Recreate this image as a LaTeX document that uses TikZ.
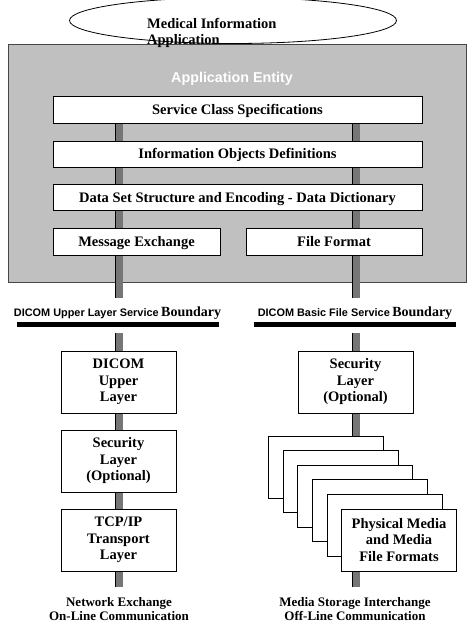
\documentclass[tikz,border=0pt]{standalone}
\usepackage{fontspec}
\setmainfont{Liberation Serif}
\setsansfont{Liberation Sans}
\usetikzlibrary{shapes.geometric}
\pgfdeclarelayer{back}
\pgfdeclarelayer{bars}
\pgfsetlayers{back,bars,main}
\definecolor{aegray}{RGB}{192,192,192}
\definecolor{barcol}{RGB}{118,118,118}
\definecolor{aeedge}{RGB}{70,70,70}
\tikzset{
  box/.style={draw=black, line width=0.8pt, fill=white, inner sep=0pt,
    font=\bfseries\fontsize{14.5}{16.5}\selectfont, align=center},
  ubox/.style={box, text height=9pt, text depth=0pt},
  lbox/.style={box, minimum width=115pt, minimum height=62pt},
  page/.style={lbox},
  bar/.style={double=barcol, double distance=7pt, line width=0.9pt},
  bline/.style={fill=black, minimum width=202pt, minimum height=5pt, inner sep=0pt},
  caption/.style={align=center, inner sep=0pt, anchor=north,
    font=\bfseries\fontsize{13}{14}\selectfont}
}
\begin{document}
\begin{tikzpicture}[x=1pt,y=-1pt]
\useasboundingbox (0,0) rectangle (474,632);
\begin{pgfonlayer}{back}
\node[draw=aeedge, fill=aegray, line width=0.8pt, minimum width=458pt, minimum height=238pt, inner sep=0pt] (ae) at (237,163) {};
\end{pgfonlayer}
\node[ellipse, draw, fill=white, line width=0.8pt, minimum width=327pt, minimum height=46pt, inner sep=0pt] (mia) at (233,20.5) {};
\node[anchor=base west, inner sep=0pt, font=\bfseries\fontsize{14.5}{16}\selectfont] (mia1) at (147,28) {Medical Information};
\node[anchor=base west, inner sep=0pt, font=\bfseries\fontsize{14.5}{16}\selectfont] (mia2) at (147,44) {Application};
\node[anchor=base, inner sep=0pt, text=white, font=\sffamily\bfseries\fontsize{14.3}{16}\selectfont] (aet) at (232,82) {Application Entity};

\node[ubox, minimum width=369pt, minimum height=27pt] (scs) at (237.5,109.5) {Service Class Specifications};
\node[ubox, minimum width=369pt, minimum height=26pt] (iod) at (237.5,154) {Information Objects Definitions};
\node[ubox, minimum width=369pt, minimum height=26pt] (dsd) at (237.5,197.5) {Data Set Structure and Encoding - Data Dictionary};
\node[ubox, minimum width=167pt, minimum height=27pt] (msg) at (136.5,241.5) {Message Exchange};
\node[ubox, minimum width=176pt, minimum height=27pt] (ff) at (334,241.5) {File Format};

\node[anchor=base, inner sep=0pt] (lbl) at (117.5,316) {{\sffamily\bfseries\fontsize{10.9}{12}\selectfont DICOM Upper Layer Service} {\bfseries\fontsize{14}{16}\selectfont Boundary}};
\node[anchor=base, inner sep=0pt] (rbl) at (355,316) {{\sffamily\bfseries\fontsize{10.9}{12}\selectfont DICOM Basic File Service} {\bfseries\fontsize{14}{16}\selectfont Boundary}};
\node[bline] (bl) at (118,324.5) {};
\node[bline] (br) at (355,324.5) {};

\node[lbox] (dul) at (118.5,382) {DICOM\\Upper\\Layer};
\node[lbox] (secr) at (355.5,382) {Security\\Layer\\(Optional)};
\node[lbox] (secl) at (118.5,461) {Security\\Layer\\(Optional)};
\node[lbox] (tcp) at (118.5,540) {TCP/IP\\Transport\\Layer};

\foreach \k in {0,...,4} {
  \node[page] (p\k) at (326+14.6*\k, 467+14.6*\k) {};
}
\node[page] (p5) at (399,540) {Physical Media\\and Media\\File Formats};

\node[caption] (netx) at (119,597) {Network Exchange\\On-Line Communication};
\node[caption] (medx) at (355,597) {Media Storage Interchange\\Off-Line Communication};

\coordinate (ltop) at (119,298);
\coordinate (rtop) at (356,298);
\coordinate (lbot) at (119,333);
\coordinate (rbot) at (356,333);
\coordinate (lend) at (119,587);
\coordinate (rend) at (356,587);
\begin{pgfonlayer}{bars}
\draw[bar] (scs.south -| ltop) -- (ltop);
\draw[bar] (scs.south -| rtop) -- (rtop);
\draw[bar] (lbot) -- (lend);
\draw[bar] (rbot) -- (rend);
\end{pgfonlayer}
\end{tikzpicture}
\end{document}
